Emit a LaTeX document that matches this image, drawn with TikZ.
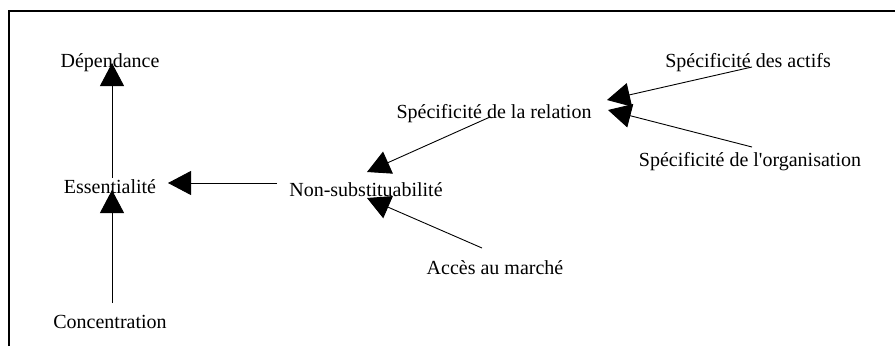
\documentclass[tikz,border=0pt]{standalone}
\usepackage{fontspec}
\setmainfont{Liberation Serif}[Ligatures=TeXOff]
\usetikzlibrary{arrows.meta,calc}
\begin{document}
\begin{tikzpicture}[x=1pt,y=-1pt,
  lbl/.style={anchor=base,inner sep=0pt,font=\fontsize{20}{24}\selectfont},
  arr/.style={line width=0.9pt,-{Triangle[length=23pt,width=24pt]}},
  frame/.style={line width=2pt}]
\useasboundingbox (0,0) rectangle (895,346);
\draw[frame] (9,346) -- (9,11) -- (895,11);
\node[lbl] (dep) at (110,67) {Dépendance};
\node[lbl] (ess) at (110,193) {Essentialité};
\node[lbl] (conc) at (110,328) {Concentration};
\node[lbl] (non) at (366,196) {Non-substituabilité};
\node[lbl] (rel) at (494,118) {Spécificité de la relation};
\node[lbl] (act) at (748,67) {Spécificité des actifs};
\node[lbl] (org) at (750,166) {Spécificité de l'organisation};
\node[lbl] (acc) at (495,274) {Accès au marché};
\draw[arr] ($(ess.base)+(2,-15)$) -- ($(dep.base)+(2,-4)$);
\draw[arr] ($(conc.base)+(2,-25)$) -- ($(ess.base)+(2,-3)$);
\draw[arr] ($(non.base)+(-89,-13)$) -- ($(ess.base)+(58,-10)$);
\draw[arr] ($(rel.base)+(-4,-1)$) -- ($(non.base)+(1,-24)$);
\draw[arr] ($(acc.base)+(-13,-26)$) -- ($(non.base)+(1,2)$);
\draw[arr] ($(act.base)+(4,0)$) -- ($(rel.base)+(113,-18)$);
\draw[arr] ($(org.base)+(2,-19)$) -- ($(rel.base)+(114,-8)$);
\end{tikzpicture}
\end{document}
